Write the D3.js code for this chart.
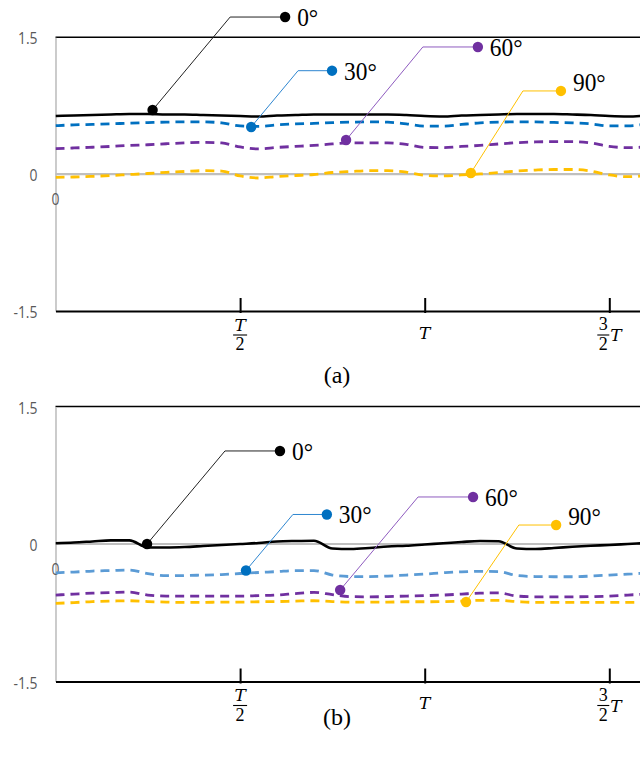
<!DOCTYPE html>
<html>
<head>
<meta charset="utf-8">
<script src="https://cdn.jsdelivr.net/npm/d3@7"></script>
<style>
  html, body { margin: 0; padding: 0; background: #fff; }
  svg { display: block; }
</style>
</head>
<body>
<svg id="chart" width="640" height="760"></svg>
<script>
// ---------- DATA ----------
const times = [0, 0.05, 0.1, 0.15, 0.2, 0.25, 0.3, 0.35, 0.4, 0.45, 0.5, 0.55, 0.6, 0.65, 0.7, 0.75, 0.8,
  0.85, 0.9, 0.95, 1.0, 1.05, 1.1, 1.15, 1.2, 1.25, 1.3, 1.35, 1.4, 1.45, 1.5, 1.55, 1.6];

const seriesNames = ["0°", "30°", "60°", "90°"];

// panel (a)
const a0  = [0.637,0.643,0.648,0.654,0.659,0.659,0.654,0.654,0.648,0.643,0.637,0.632,0.643,0.648,0.654,0.654,0.654,0.654,0.654,0.648,0.637,0.632,0.643,0.648,0.654,0.659,0.659,0.659,0.654,0.648,0.637,0.632,0.643];
const a30 = [0.531,0.540,0.545,0.551,0.559,0.565,0.570,0.573,0.573,0.562,0.529,0.523,0.540,0.551,0.556,0.565,0.570,0.573,0.570,0.551,0.527,0.526,0.545,0.562,0.570,0.573,0.573,0.567,0.562,0.551,0.529,0.529,0.551];
const a60 = [0.280,0.287,0.295,0.304,0.315,0.322,0.333,0.342,0.348,0.342,0.298,0.276,0.293,0.304,0.315,0.331,0.342,0.342,0.342,0.326,0.293,0.291,0.304,0.315,0.331,0.345,0.353,0.356,0.356,0.342,0.304,0.291,0.298];
const a90 = [-0.035,-0.031,-0.024,-0.015,-0.004,0.007,0.020,0.029,0.038,0.034,-0.020,-0.042,-0.026,-0.015,-0.004,0.018,0.029,0.038,0.038,0.023,-0.013,-0.020,-0.009,0.002,0.018,0.034,0.045,0.051,0.051,0.034,-0.009,-0.028,-0.015];

// panel (b)
const b0  = [0.008,0.016,0.028,0.040,0.040,-0.038,-0.038,-0.033,-0.022,-0.011,0.000,0.011,0.027,0.033,0.036,-0.049,-0.055,-0.044,-0.027,-0.019,-0.005,0.008,0.022,0.033,0.030,-0.049,-0.055,-0.044,-0.030,-0.019,-0.011,0.000,0.011];
const b30 = [-0.314,-0.306,-0.295,-0.290,-0.284,-0.322,-0.346,-0.344,-0.339,-0.333,-0.322,-0.311,-0.301,-0.290,-0.290,-0.339,-0.355,-0.355,-0.350,-0.339,-0.328,-0.314,-0.303,-0.298,-0.301,-0.344,-0.355,-0.357,-0.357,-0.350,-0.339,-0.328,-0.317];
const b60 = [-0.557,-0.546,-0.536,-0.530,-0.525,-0.557,-0.568,-0.568,-0.568,-0.568,-0.568,-0.563,-0.557,-0.541,-0.528,-0.552,-0.574,-0.576,-0.574,-0.568,-0.563,-0.557,-0.546,-0.536,-0.533,-0.568,-0.576,-0.576,-0.576,-0.574,-0.568,-0.557,-0.546];
const b90 = [-0.648,-0.639,-0.628,-0.623,-0.619,-0.628,-0.634,-0.637,-0.637,-0.634,-0.634,-0.630,-0.628,-0.623,-0.619,-0.628,-0.634,-0.634,-0.634,-0.630,-0.630,-0.628,-0.623,-0.615,-0.615,-0.628,-0.637,-0.637,-0.637,-0.637,-0.637,-0.637,-0.634];

const yTicks = [-1.5, 0, 1.5];
const yTickLabels = ["-1.5", "0", "1.5"];
const xTicks = [0.5, 1, 1.5];

// callouts in data units: anchor on curve, elbow, label dot
const calloutsA = [
  {label: "0°",  at: [0.263, 0.703], elbow: [0.473, 1.722], dot: [0.622, 1.722]},
  {label: "30°", at: [0.530, 0.517], elbow: [0.657, 1.134], dot: [0.749, 1.134]},
  {label: "60°", at: [0.787, 0.374], elbow: [0.995, 1.394], dot: [1.144, 1.394]},
  {label: "90°", at: [1.125, 0.013], elbow: [1.266, 0.912], dot: [1.369, 0.912]}
];
const calloutsB = [
  {label: "0°",  at: [0.248, 0.000],  elbow: [0.459, 1.015], dot: [0.608, 1.015]},
  {label: "30°", at: [0.516, -0.289], elbow: [0.643, 0.322], dot: [0.735, 0.322]},
  {label: "60°", at: [0.771, -0.502], elbow: [0.982, 0.513], dot: [1.131, 0.513]},
  {label: "90°", at: [1.112, -0.633], elbow: [1.255, 0.207], dot: [1.356, 0.207]}
];

// ---------- LAYOUT / STYLE ----------
const panels = [
  {caption: "(a)", top: 37.3, bottom: 311, captionY: 383, series: [a0, a30, a60, a90],
   colors: ["#000000", "#0070C0", "#7030A0", "#FFC000"], markerColors: ["#000000", "#0070C0", "#7030A0", "#FFC000"],
   callouts: calloutsA},
  {caption: "(b)", top: 406.5, bottom: 681.5, captionY: 725, series: [b0, b30, b60, b90],
   colors: ["#000000", "#5B9BD5", "#7030A0", "#FFC000"], markerColors: ["#000000", "#0070C0", "#7030A0", "#FFC000"],
   callouts: calloutsB}
];
const leaderColors = ["#222222", "#2E86D0", "#8E5BBF", "#FFC000"];
const labelLift = [0, 0, 0, 9];

const svg = d3.select("#chart");
const x = d3.scaleLinear().domain([0, 1.6]).range([55.5, 55.5 + 1.6 * 369.2]);
const greyText = "#595959";
const axisFont = "'Open Sans', 'Noto Sans', sans-serif";
const serif = "'Liberation Serif', 'Times New Roman', serif";
const mathFont = "'DejaVu Serif', 'Liberation Serif', serif";

panels.forEach(p => {
  const g = svg.append("g");
  const y = d3.scaleLinear().domain([-1.5, 1.5]).range([p.bottom, p.top]);

  // top border line at 1.5
  g.append("line")
    .attr("x1", x(0)).attr("x2", x(1.6))
    .attr("y1", y(1.5)).attr("y2", y(1.5))
    .attr("stroke", "#000").attr("stroke-width", 1.6);

  // zero line
  g.append("line")
    .attr("x1", x(0)).attr("x2", x(1.6))
    .attr("y1", y(0)).attr("y2", y(0))
    .attr("stroke", "#BFBFBF").attr("stroke-width", 2.2);

  // y axis (grey domain + labels)
  const yAxis = d3.axisLeft(y).tickValues(yTicks)
    .tickFormat((d, i) => yTickLabels[i]).tickSize(0).tickPadding(0);
  const ya = g.append("g").attr("transform", `translate(${x(0)},0)`).call(yAxis);
  ya.select(".domain").attr("stroke", "#BFBFBF").attr("stroke-width", 1.6);
  ya.attr("font-size", null).attr("font-family", null);
  ya.selectAll("text")
    .attr("x", null).attr("dy", null)
    .attr("dominant-baseline", "central")
    .attr("transform", "translate(-18,0) scale(0.82,1)")
    .attr("fill", greyText).style("font-size", "17px").style("font-family", axisFont);

  // x axis at bottom
  const xAxis = d3.axisBottom(x).tickValues(xTicks).tickFormat("").tickSizeInner(-13).tickSizeOuter(0);
  const xa = g.append("g").attr("transform", `translate(0,${p.bottom})`).call(xAxis);
  xa.select(".domain").attr("stroke", "#000").attr("stroke-width", 2);
  xa.selectAll(".tick line").attr("stroke", "#000").attr("stroke-width", 2)
    .attr("y1", 2);

  // origin "0" label
  g.append("text")
    .attr("transform", `translate(${x(0)},${y(0) + 24}) scale(0.82,1)`)
    .attr("text-anchor", "middle").attr("dominant-baseline", "central")
    .attr("fill", greyText).style("font-size", "17px").style("font-family", axisFont).text("0");

  // x tick labels: T/2, T, 3/2 T
  const bb = p.bottom;
  const tText = (xx, yy, txt, italic, size, anchor) =>
    g.append("text").attr("x", xx).attr("y", yy).attr("text-anchor", anchor || "middle")
      .style("font-family", italic ? mathFont : serif).style("font-size", size + "px")
      .style("font-style", italic ? "italic" : "normal").text(txt);
  // T/2
  let xt = x(0.5);
  tText(xt, bb + 19.5, "T", true, 17);
  g.append("line").attr("x1", xt - 7).attr("x2", xt + 7).attr("y1", bb + 24).attr("y2", bb + 24)
    .attr("stroke", "#000").attr("stroke-width", 1.1);
  tText(xt, bb + 39, "2", false, 18);
  // T
  xt = x(1);
  tText(xt, bb + 27.5, "T", true, 17);
  // 3/2 T
  xt = x(1.5);
  tText(xt - 6, bb + 19, "3", false, 18);
  g.append("line").attr("x1", xt - 12).attr("x2", xt).attr("y1", bb + 24).attr("y2", bb + 24)
    .attr("stroke", "#000").attr("stroke-width", 1.1);
  tText(xt - 6, bb + 39, "2", false, 18);
  tText(xt + 1, bb + 30, "T", true, 17, "start");

  // series lines
  const line = d3.line().x((d, i) => x(times[i])).y(d => y(d)).curve(d3.curveMonotoneX);
  const clipId = "clip" + p.caption.replace(/[()]/g, "");
  svg.append("defs").append("clipPath").attr("id", clipId)
    .append("rect").attr("x", x(0)).attr("y", p.top - 5).attr("width", 640).attr("height", p.bottom - p.top + 10);
  const lg = g.append("g").attr("clip-path", `url(#${clipId})`);
  [3, 2, 1, 0].forEach(k => {
    lg.append("path").datum(p.series[k])
      .attr("d", line)
      .attr("fill", "none")
      .attr("stroke", p.colors[k])
      .attr("stroke-width", k === 0 ? 2.6 : 2.8)
      .attr("stroke-dasharray", k === 0 ? null : "9,6")
      .attr("stroke-linejoin", "round");
  });

  // callouts
  p.callouts.forEach((c, k) => {
    const pts = [c.at, c.elbow, c.dot].map(d => [x(d[0]), y(d[1])]);
    g.append("path").attr("d", d3.line()(pts)).attr("fill", "none")
      .attr("stroke", leaderColors[k]).attr("stroke-width", 1);
    g.append("circle").attr("cx", pts[0][0]).attr("cy", pts[0][1]).attr("r", 5.2).attr("fill", p.markerColors[k]);
    g.append("circle").attr("cx", pts[2][0]).attr("cy", pts[2][1]).attr("r", 5.2).attr("fill", p.markerColors[k]);
    g.append("text")
      .attr("transform", `translate(${pts[2][0] + 12},${pts[2][1] - labelLift[k] + 9}) scale(0.9,1)`)
      .style("font-family", serif).style("font-size", "26px").attr("fill", "#000")
      .text(c.label);
  });

  // caption
  svg.append("text").attr("x", 337).attr("y", p.captionY).attr("text-anchor", "middle")
    .style("font-family", serif).style("font-size", "24px").text(p.caption);
});
</script>
</body>
</html>
